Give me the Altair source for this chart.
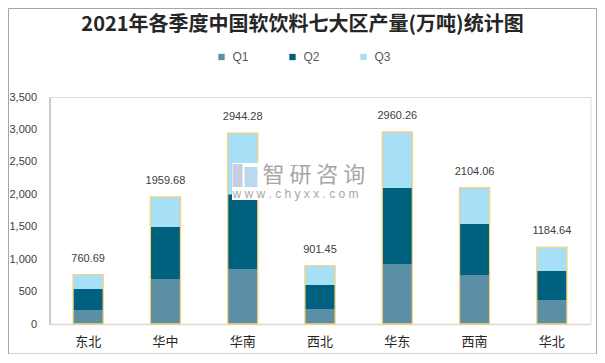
import altair as alt
import pandas as pd

regions = ["东北", "华中", "华南", "西北", "华东", "西南", "华北"]
q1 = [215, 694, 848, 231, 925, 756, 370]
q2 = [325, 802, 1152, 370, 1172, 786, 447]
totals = [760.69, 1959.68, 2944.28, 901.45, 2960.26, 2104.06, 1184.64]
q3 = [round(t - a - b, 2) for t, a, b in zip(totals, q1, q2)]
quarters = ["Q1", "Q2", "Q3"]
colors = ["#5B8FA6", "#00617F", "#A6DFF6"]
y_ticks = [0, 500, 1000, 1500, 2000, 2500, 3000, 3500]
title_text = "2021年各季度中国软饮料七大区产量(万吨)统计图"
wm_name = "智 研 咨 询"
wm_site = "w w w . c h y x x . c o m"

rows = []
for i, r in enumerate(regions):
    for k, (q, vals) in enumerate(zip(quarters, [q1, q2, q3])):
        rows.append({"region": r, "quarter": q, "qi": k, "value": vals[i]})
df = pd.DataFrame(rows)
tot = pd.DataFrame({"region": regions, "total": totals})
one = pd.DataFrame({"a": [0]})

W, H = 541, 227
xscale = alt.Scale(paddingInner=0.61, paddingOuter=0.305)
xaxis = alt.Axis(labelAngle=0, labelFontSize=13, labelColor="#262626",
                 labelFont="Noto Sans CJK SC", labelPadding=11,
                 domainColor="#D9D9D9", domainWidth=1.5, ticks=False, grid=False)
yscale = alt.Scale(domain=[0, 3500])
yaxis = alt.Axis(values=y_ticks, format=",.0f", labelFontSize=11, labelColor="#404040",
                 labelFont="Liberation Sans", labelPadding=13,
                 domainColor="#A6A6A6", ticks=False, grid=False)

bars = alt.Chart(df).mark_bar().encode(
    x=alt.X("region:N", sort=regions, title=None, scale=xscale, axis=xaxis),
    y=alt.Y("value:Q", stack="zero", scale=yscale, title=None, axis=yaxis),
    color=alt.Color("quarter:N", scale=alt.Scale(domain=quarters, range=colors),
                    legend=alt.Legend(orient="none", legendX=166, legendY=-46,
                                      direction="horizontal", title=None,
                                      symbolType="square", symbolSize=40,
                                      symbolStrokeWidth=0, labelFontSize=12,
                                      labelFont="Liberation Sans",
                                      labelColor="#595959", columnPadding=37,
                                      labelOffset=5)),
    order=alt.Order("qi:Q", sort="ascending"),
)

outline = alt.Chart(tot).mark_bar(fillOpacity=0, stroke="#F7D27C", strokeWidth=1.3).encode(
    x=alt.X("region:N", sort=regions, title=None, scale=xscale, axis=xaxis),
    y=alt.Y("total:Q", scale=yscale, title=None, axis=yaxis),
)

labels = alt.Chart(tot).mark_text(dy=-16, fontSize=11, color="#404040",
                                  font="Liberation Sans").encode(
    x=alt.X("region:N", sort=regions, title=None, scale=xscale, axis=xaxis),
    y=alt.Y("total:Q", scale=yscale, title=None, axis=yaxis),
    text=alt.Text("total:Q", format=".2f"),
)

wm_box = alt.Chart(one).mark_rect(fill="white").encode(
    x=alt.value(182.5), x2=alt.value(326), y=alt.value(66), y2=alt.value(103))
wm_logo1 = alt.Chart(one).mark_rect(fill="#C5CEDD").encode(
    x=alt.value(183), x2=alt.value(193), y=alt.value(67), y2=alt.value(90))
wm_logo2 = alt.Chart(one).mark_rect(fill="#BBD9EE").encode(
    x=alt.value(195), x2=alt.value(208), y=alt.value(70), y2=alt.value(90))
wm_t1 = alt.Chart(one).mark_text(text=wm_name, fontSize=22,
                                 color="#A6A6A6", align="left", baseline="middle",
                                 font="Noto Sans CJK SC").encode(
    x=alt.value(213), y=alt.value(78))
wm_t2 = alt.Chart(one).mark_text(text=wm_site, fontSize=12,
                                 color="#A6A6A6", align="left", baseline="middle",
                                 font="Liberation Sans").encode(
    x=alt.value(183), y=alt.value(97))

title = alt.Chart(one).mark_text(text=title_text, fontSize=20, fontWeight="bold",
                                 color="#262626", align="center", baseline="middle",
                                 font="Noto Sans CJK SC").encode(
    x=alt.value(253), y=alt.value(-72))

border = alt.Chart(one).mark_rect(fill="transparent", stroke="#A6A6A6",
                                  strokeWidth=1).encode(
    x=alt.value(-41), x2=alt.value(547), y=alt.value(-88.5), y2=alt.value(257))

chart = alt.layer(bars, outline, labels, wm_box, wm_logo1, wm_logo2, wm_t1, wm_t2,
                  title, border).properties(
    width=W, height=H,
    autosize=alt.AutoSizeParams(type="none"),
    padding={"left": 41.5, "top": 89, "right": 6.5, "bottom": 30},
).configure_view(stroke=None).configure(background="white")

chart.save("out.html", embed_options={"renderer": "svg", "actions": False})
